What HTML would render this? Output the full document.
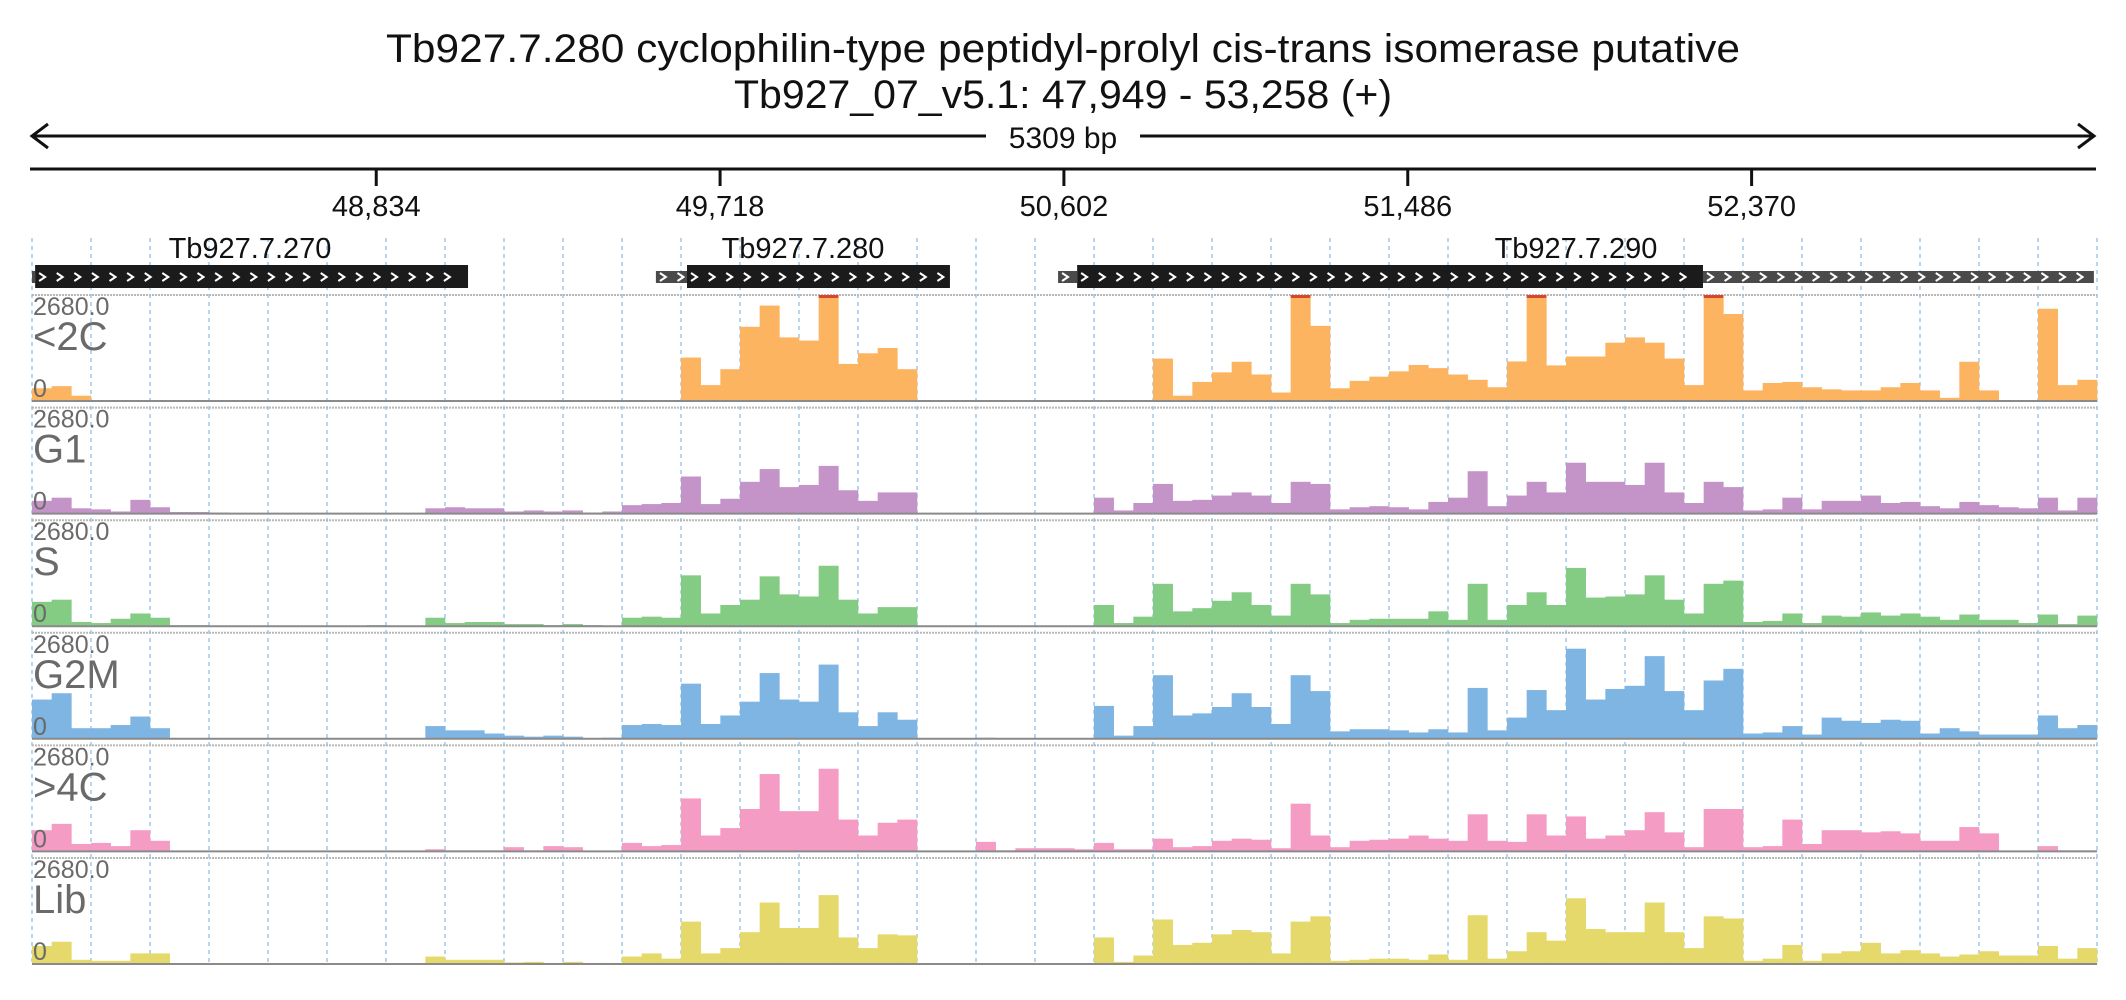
<!DOCTYPE html>
<html><head><meta charset="utf-8">
<style>
html,body{margin:0;padding:0;background:#fff;}
svg{display:block;font-family:"Liberation Sans",sans-serif;}
</style></head>
<body>
<svg id="chart" width="2126" height="1000" viewBox="0 0 2126 1000" xmlns="http://www.w3.org/2000/svg">
  <text x="1063" y="62" text-anchor="middle" font-size="40" textLength="1354" lengthAdjust="spacingAndGlyphs" fill="#111">Tb927.7.280  cyclophilin-type peptidyl-prolyl cis-trans isomerase  putative</text>
  <text x="1063" y="108" text-anchor="middle" font-size="40" textLength="658" lengthAdjust="spacingAndGlyphs" fill="#111">Tb927_07_v5.1: 47,949 - 53,258 (+)</text>
  <g>
    <line x1="32" y1="136" x2="2094" y2="136" stroke="#111" stroke-width="3"/>
    <polyline points="48,124 32,136 48,148" fill="none" stroke="#111" stroke-width="3"/>
    <polyline points="2078,124 2094,136 2078,148" fill="none" stroke="#111" stroke-width="3"/>
    <rect x="986" y="120" width="154" height="34" fill="#fff"/>
    <text x="1063" y="148" text-anchor="middle" font-size="30" fill="#111">5309 bp</text>
  </g>
  <line x1="30" y1="169" x2="2096" y2="169" stroke="#111" stroke-width="3"/>
  <g id="axis"></g>
  <g id="grid"></g>
  <g id="genes"></g>
  <g id="tracks"></g>
</svg>
<script>
const startBp = 47949;
const endBp = 53258;
const tickValues = [48834, 49718, 50602, 51486, 52370];
const tickLabels = ["48,834", "49,718", "50,602", "51,486", "52,370"];
const geneNames = ["Tb927.7.270", "Tb927.7.280", "Tb927.7.290"];
const geneUtrStart = [47949, 49553, 50587];
const geneCdsStart = [47957, 49633, 50636];
const geneCdsEnd = [49070, 50309, 52245];
const geneUtrEnd = [49070, 50309, 53250];
const yMax = 2680;
const trackNames = ["<2C", "G1", "S", "G2M", ">4C", "Lib"];
const trackColors = ["#fcb461", "#c494c9", "#84cb84", "#7eb5e2", "#f59cc4", "#e4d96a"];
const nBins = 105;
const lt2C = [322,375,134, 0,0,0, 0,0,0, 0,0,0, 0,0,0, 0,0,0, 0,0,0, 0,0,0, 0,0,0, 0,0,0, 0,0,0, 1099,402,804, 1876,2412,1608, 1528,3100,938, 1206,1340,804, 0,0,0, 0,0,0, 0,0,0,
 0,0,0, 1072,134,482, 724,992,670, 214,3000,1900, 322,509,616, 750,911,831, 670,536,348, 1000,3000,900, 1126,1126,1474, 1608,1474,1072, 402,3000,2200, 268,456,482, 348,295,268, 268,348,456, 268,80,992, 268,0,0, 2332,402,536];
const g1 = [322,402,134, 107,54,348, 161,40,40, 27,13,0, 0,0,0, 0,0,0, 0,0,134, 161,134,134, 54,80,54, 80,27,54, 214,241,268, 938,241,375, 804,1126,670, 724,1206,590, 322,536,536, 0,0,0, 0,0,0, 0,0,0,
 402,80,268, 750,322,348, 456,536,456, 268,804,750, 107,161,188, 161,107,295, 402,1072,188, 456,804,536, 1286,804,804, 724,1286,536, 268,804,670, 80,107,402, 107,322,322, 456,268,295, 188,134,295, 214,161,134, 402,80,402];
const sPhase = [616,670,107, 80,188,322, 214,27,27, 13,13,13, 13,13,13, 13,13,27, 0,0,214, 80,107,107, 54,54,27, 54,27,0, 214,241,214, 1286,322,536, 670,1260,804, 750,1528,670, 322,482,482, 0,0,0, 0,0,0, 0,0,0,
 536,80,241, 1072,375,456, 643,858,536, 268,1072,804, 80,161,188, 188,188,375, 161,1072,161, 536,858,536, 1474,724,750, 804,1286,670, 322,1072,1152, 107,134,322, 80,268,241, 348,268,322, 241,161,295, 161,161,80, 295,54,268];
const g2m = [992,1152,268, 268,348,563, 268,0,0, 0,0,0, 0,0,0, 0,0,0, 0,0,322, 214,214,134, 80,54,80, 54,0,27, 348,375,348, 1394,375,590, 938,1662,992, 938,1876,670, 322,670,482, 0,0,0, 27,0,0, 0,0,0,
 831,80,322, 1608,590,643, 804,1152,804, 375,1608,1206, 188,241,241, 214,161,241, 161,1286,214, 536,1233,724, 2278,992,1260, 1340,2090,1206, 724,1474,1769, 134,161,322, 107,536,456, 402,482,456, 134,268,188, 107,107,107, 590,268,348];
const gt4C = [536,697,188, 214,134,536, 268,0,0, 13,13,13, 13,13,13, 13,13,13, 0,0,54, 27,27,27, 107,27,134, 107,0,0, 214,134,161, 1340,402,590, 1072,1956,1018, 1018,2090,804, 402,724,804, 0,0,0, 241,27,80, 80,80,54,
 214,54,54, 322,107,134, 268,322,295, 80,1206,402, 107,268,295, 322,402,322, 268,938,268, 241,938,402, 884,322,402, 536,992,482, 107,1072,1072, 107,134,804, 188,536,536, 482,509,456, 268,268,616, 456,0,0, 134,27,27];
const lib = [456,563,107, 80,80,268, 268,13,13, 13,13,13, 13,13,13, 13,13,13, 0,0,188, 107,107,107, 40,54,27, 54,27,27, 188,268,134, 1072,268,402, 804,1554,911, 911,1742,670, 402,750,724, 0,0,0, 0,0,0, 0,0,0,
 670,54,214, 1126,482,536, 750,858,804, 268,1072,1206, 80,107,134, 134,107,241, 107,1233,134, 322,804,590, 1662,884,804, 804,1554,804, 402,1206,1152, 80,134,482, 80,268,322, 536,268,348, 268,188,241, 322,214,214, 456,134,402];
const trackData = [lt2C, g1, sPhase, g2m, gt4C, lib];

const NS = "http://www.w3.org/2000/svg";
const X0 = 32, X1 = 2097;
function xScale(bp){ return X0 + (bp - startBp) * (X1 - X0) / (endBp - startBp); }
const binBp = (endBp - startBp) / nBins;
function mk(tag, attrs, parent){ const e = document.createElementNS(NS, tag); for (const k in attrs) e.setAttribute(k, attrs[k]); parent.appendChild(e); return e; }

const axis = document.getElementById('axis');
tickValues.forEach((v, i) => {
  const x = xScale(v);
  const t = mk('line', {x1:x, y1:169, x2:x, y2:186, stroke:'#111', 'stroke-width':3}, axis);
  
  
  const lb = mk('text', {x:x, y:216, 'text-anchor':'middle', 'font-size':29, fill:'#111'}, axis);
  lb.textContent = tickLabels[i];
  
  
});

const grid = document.getElementById('grid');
for (let k = 0; k <= 35; k++) {
  const x = X0 + k * (X1 - X0) / 35;
  const g = mk('line', {x1:x, y1:238, x2:x, y2:966, stroke:'#9dc8ee', 'stroke-width':1.5, 'stroke-dasharray':'4,4'}, grid);
  
  
}

const genes = document.getElementById('genes');
function chevrons(x1, x2, y, parent){
  for (let x = x1 + 4; x + 8 < x2; x += 17.6) {
    mk('polyline', {points:`${x},${y-4} ${x+6},${y} ${x},${y+4}`, fill:'none', stroke:'#fff', 'stroke-width':2}, parent);
  }
}
const labelX = [250, 803, 1576];
geneNames.forEach((name, i) => {
  const g = mk('g', {}, genes);
  
  
  const u1 = xScale(geneUtrStart[i]), c1 = xScale(geneCdsStart[i]), c2 = xScale(geneCdsEnd[i]), u2 = xScale(geneUtrEnd[i]);
  if (c1 > u1 + 1) { mk('rect', {x:u1, y:271, width:c1-u1, height:12, fill:'#4a4a4a'}, g); chevrons(u1, c1, 277, g); }
  if (u2 > c2 + 1) { mk('rect', {x:c2, y:271, width:u2-c2, height:12, fill:'#4a4a4a'}, g); chevrons(c2, u2, 277, g); }
  mk('rect', {x:c1, y:265, width:c2-c1, height:23, fill:'#1b1b1b'}, g);
  chevrons(c1, c2, 277, g);
  const lb = mk('text', {x:labelX[i], y:258, 'text-anchor':'middle', 'font-size':29, fill:'#111'}, g);
  lb.textContent = name;
  
  
});

const tracks = document.getElementById('tracks');
const trackTop0 = 295, trackStep = 112.6, plotH = 106;
trackData.forEach((vals, ti) => {
  const top = trackTop0 + ti * trackStep, base = top + plotH;
  const g = mk('g', {}, tracks);
  
  
  mk('line', {x1:X0, y1:top, x2:X1, y2:top, stroke:'#b8b8b8', 'stroke-width':2, 'stroke-dasharray':'2,1'}, g);
  vals.forEach((v, i) => {
    const xa = xScale(startBp + i * binBp), xb = xScale(startBp + (i + 1) * binBp);
    const h = Math.min(v, yMax) / yMax * plotH;
    if (h <= 0) return;
    const r = mk('rect', {x:xa, y:base - h, width:xb - xa + 0.3, height:h, fill:trackColors[ti]}, g);
    
    
    if (v > yMax) {
      const c = mk('rect', {x:xa, y:top, width:xb - xa, height:3, fill:'#d9472b'}, g);
      
      
    }
  });
  mk('line', {x1:X0, y1:base, x2:X1, y2:base, stroke:'#8a8a8a', 'stroke-width':2}, g);
  const mx = mk('text', {x:33, y:top + 20, 'font-size':25, fill:'#6a6a6a'}, g);
  mx.textContent = '2680.0';
  
  
  const nm = mk('text', {x:33, y:top + 55, 'font-size':40, fill:'#6a6a6a'}, g);
  nm.textContent = trackNames[ti];
  
  
  const zr = mk('text', {x:33, y:top + 102, 'font-size':25, fill:'#6a6a6a'}, g);
  zr.textContent = '0';
  
  
});
</script>
</body></html>
